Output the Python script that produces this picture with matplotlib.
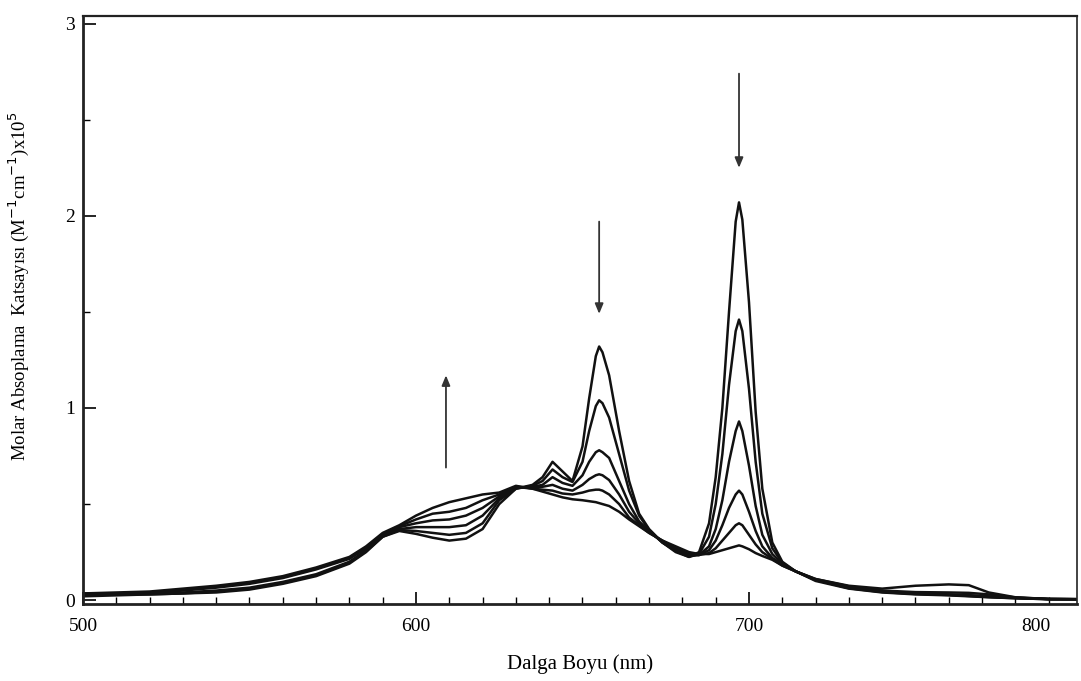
import matplotlib
matplotlib.use("Agg")
import matplotlib.pyplot as plt
from matplotlib.ticker import MultipleLocator
from matplotlib.transforms import blended_transform_factory

plt.rcParams['font.family'] = ['Liberation Serif', 'DejaVu Serif']

# Wavelength grid (nm)
wavelength = [500, 510, 520, 530, 540, 550, 560, 570, 580, 585, 590, 595, 600, 605, 610,
              615, 620, 625, 630, 635, 638, 641, 644, 647, 650, 652, 654, 655, 656, 658,
              661, 664, 667, 670, 674, 678, 682, 685, 688, 690, 692, 694, 696, 697, 698,
              700, 702, 704, 707, 710, 714, 720, 730, 740, 750, 760, 766, 772, 780, 790, 798]

# Molar absorption coefficient (x10^5 M^-1 cm^-1), six spectra
spec1 = [0.020, 0.025, 0.030, 0.035, 0.040, 0.055, 0.085, 0.125, 0.190, 0.250, 0.330, 0.360, 0.345, 0.325, 0.310,
         0.320, 0.370, 0.500, 0.580, 0.600, 0.640, 0.720, 0.670, 0.620, 0.800, 1.050, 1.270, 1.320, 1.290, 1.170,
         0.880, 0.620, 0.450, 0.370, 0.300, 0.250, 0.225, 0.250, 0.400, 0.640, 1.000, 1.500, 1.970, 2.070, 1.980,
         1.550, 0.980, 0.580, 0.300, 0.200, 0.150, 0.100, 0.060, 0.040, 0.030, 0.025, 0.020, 0.015, 0.010, 0.005, 0.005]
spec2 = [0.025, 0.030, 0.030, 0.035, 0.045, 0.060, 0.090, 0.130, 0.195, 0.255, 0.330, 0.365, 0.360, 0.350, 0.340,
         0.350, 0.400, 0.520, 0.580, 0.595, 0.620, 0.680, 0.640, 0.615, 0.720, 0.880, 1.010, 1.040, 1.025, 0.950,
         0.760, 0.570, 0.440, 0.365, 0.300, 0.255, 0.225, 0.240, 0.330, 0.500, 0.760, 1.120, 1.400, 1.460, 1.400,
         1.100, 0.720, 0.450, 0.270, 0.195, 0.150, 0.105, 0.062, 0.042, 0.032, 0.027, 0.022, 0.016, 0.010, 0.005, 0.005]
spec3 = [0.030, 0.030, 0.035, 0.040, 0.050, 0.065, 0.095, 0.135, 0.200, 0.260, 0.335, 0.370, 0.380, 0.380, 0.380,
         0.390, 0.440, 0.530, 0.585, 0.590, 0.600, 0.640, 0.610, 0.595, 0.650, 0.720, 0.770, 0.780, 0.770, 0.740,
         0.620, 0.500, 0.410, 0.360, 0.300, 0.260, 0.230, 0.235, 0.280, 0.370, 0.520, 0.720, 0.880, 0.930, 0.880,
         0.700, 0.490, 0.340, 0.240, 0.190, 0.150, 0.105, 0.065, 0.044, 0.034, 0.028, 0.024, 0.018, 0.012, 0.006, 0.005]
spec4 = [0.030, 0.035, 0.040, 0.050, 0.065, 0.085, 0.115, 0.160, 0.215, 0.270, 0.340, 0.380, 0.400, 0.415, 0.420,
         0.440, 0.480, 0.540, 0.590, 0.585, 0.590, 0.600, 0.580, 0.570, 0.600, 0.630, 0.650, 0.655, 0.650, 0.625,
         0.550, 0.460, 0.400, 0.355, 0.305, 0.265, 0.235, 0.235, 0.260, 0.310, 0.390, 0.480, 0.550, 0.570, 0.550,
         0.460, 0.360, 0.280, 0.220, 0.185, 0.150, 0.105, 0.068, 0.046, 0.036, 0.030, 0.026, 0.020, 0.012, 0.006, 0.005]
spec5 = [0.035, 0.035, 0.040, 0.055, 0.070, 0.090, 0.120, 0.165, 0.220, 0.275, 0.345, 0.385, 0.420, 0.450, 0.460,
         0.480, 0.520, 0.550, 0.590, 0.580, 0.575, 0.570, 0.555, 0.550, 0.560, 0.570, 0.575, 0.575, 0.570, 0.550,
         0.500, 0.430, 0.390, 0.350, 0.310, 0.270, 0.240, 0.235, 0.245, 0.270, 0.310, 0.350, 0.390, 0.400, 0.390,
         0.340, 0.290, 0.250, 0.215, 0.180, 0.150, 0.110, 0.072, 0.050, 0.042, 0.040, 0.038, 0.030, 0.014, 0.006, 0.005]
spec6 = [0.035, 0.040, 0.045, 0.060, 0.075, 0.095, 0.125, 0.170, 0.225, 0.280, 0.350, 0.390, 0.440, 0.480, 0.510,
         0.530, 0.550, 0.560, 0.595, 0.580, 0.565, 0.550, 0.535, 0.525, 0.520, 0.515, 0.510, 0.505, 0.500, 0.490,
         0.460, 0.420, 0.385, 0.350, 0.310, 0.280, 0.250, 0.240, 0.240, 0.250, 0.260, 0.270, 0.280, 0.285, 0.280,
         0.265, 0.245, 0.230, 0.210, 0.180, 0.150, 0.110, 0.075, 0.060, 0.075, 0.082, 0.078, 0.040, 0.015, 0.006, 0.005]
spectra = [spec1, spec2, spec3, spec4, spec5, spec6]

x_ticks = [500, 600, 700]
x_tick_labels = ['500', '600', '700']
y_ticks = [0, 1, 2, 3]
y_tick_labels = ['0', '1', '2', '3']

# Arrows: (wavelength, start value, end value)
arrows = [(609, 0.69, 1.17), (655, 1.97, 1.49), (697, 2.74, 2.25)]

fig = plt.figure(figsize=(10.81, 6.81), dpi=100)
ax = fig.add_axes([83 / 1081, 77 / 681, 994 / 1081, 588 / 681])

for s in spectra:
    ax.plot(wavelength, s, color='#111111', lw=1.8, solid_joinstyle='round')

for wl, y0, y1 in arrows:
    ax.annotate('', xy=(wl, y1), xytext=(wl, y0),
                arrowprops=dict(arrowstyle='-|>,head_length=0.6,head_width=0.25',
                                color='#333333', lw=1.3, shrinkA=0, shrinkB=0))

ax.set_xlim(500, 798.5)
ax.set_ylim(-0.02, 3.04)
ax.set_xticks(x_ticks)
ax.set_xticklabels(x_tick_labels)
ax.set_yticks(y_ticks)
ax.set_yticklabels(y_tick_labels)
ax.xaxis.set_minor_locator(MultipleLocator(10))
ax.yaxis.set_minor_locator(MultipleLocator(0.5))
ax.tick_params(which='major', direction='in', length=9, width=1.2, labelsize=14, pad=10)
ax.tick_params(which='minor', direction='in', length=5, width=1.0)
ax.tick_params(axis='y', which='major', pad=6)

trans = blended_transform_factory(ax.transData, ax.transAxes)
ax.text(786, -0.024, '800', transform=trans, ha='center', va='top', fontsize=14)

for sp in ax.spines.values():
    sp.set_linewidth(2.0)
    sp.set_color('#222222')
ax.spines['right'].set_linewidth(1.2)
ax.spines['top'].set_linewidth(1.6)

ax.set_xlabel('Dalga Boyu (nm)', fontsize=15, labelpad=14)
ax.set_ylabel('Molar Absoplama  Katsayısı (M$^{-1}$cm$^{-1}$)x10$^{5}$', fontsize=13.5)
ax.yaxis.set_label_coords(-0.052, 0.54)

fig.savefig('out.png', dpi=100)
